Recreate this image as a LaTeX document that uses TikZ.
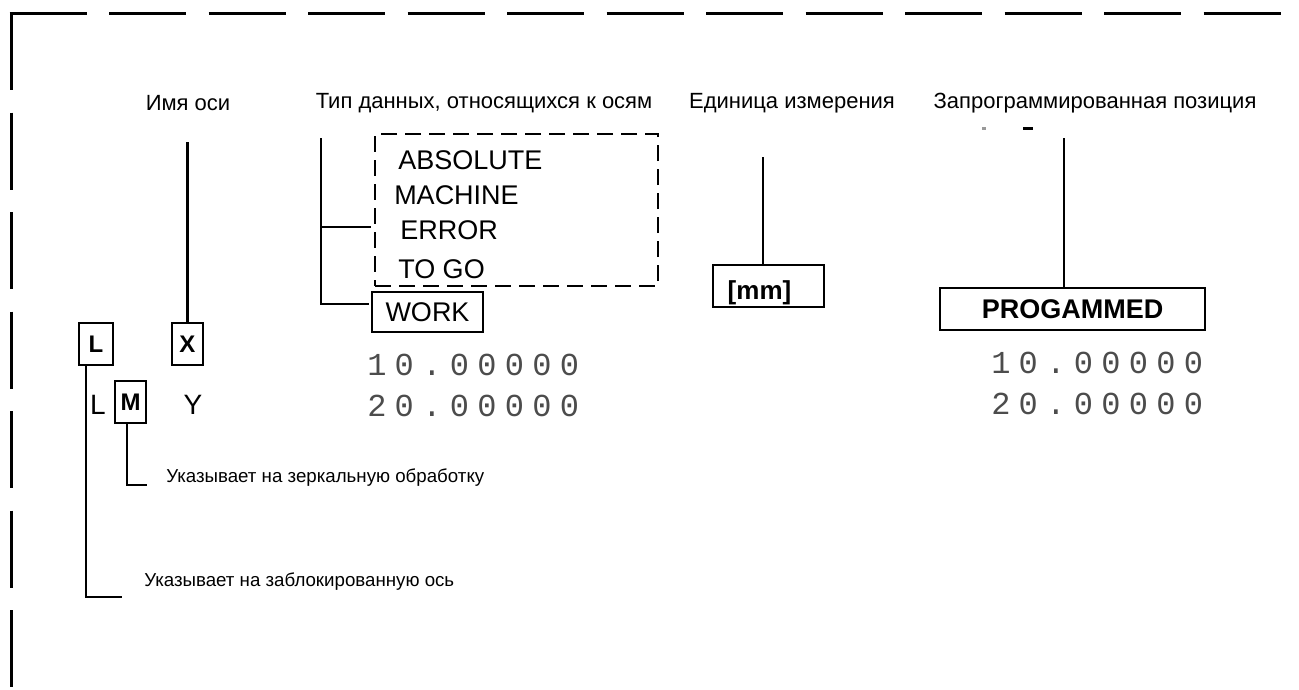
\documentclass[tikz,border=0pt]{standalone}
\usepackage{fontspec}
\setmainfont{Liberation Sans}
\newfontfamily\digitfont[LetterSpace=26]{Liberation Mono}
\usetikzlibrary{positioning}

\begin{document}
\begin{tikzpicture}[x=1pt, y=-1pt, node distance={41pt}, line width=2.5pt,
        head/.style = {font=\fontsize{22}{26}\selectfont},
        note/.style = {font=\fontsize{18.7}{22}\selectfont, anchor=west, inner sep=0pt},
        tag/.style = {font=\fontsize{27}{32}\selectfont, anchor=west, inner sep=0pt},
        axbox/.style = {draw, minimum width=31pt, minimum height=42pt, inner sep=0pt, font=\bfseries\fontsize{24}{28}\selectfont},
        axname/.style = {font=\fontsize{28}{32}\selectfont, inner sep=0pt},
        frm/.style = {draw, inner sep=0pt, font=\fontsize{27}{32}\selectfont},
        val/.style = {font=\digitfont\fontsize{32}{36}\selectfont, text=black!70, inner sep=0pt, anchor=west}]
        \useasboundingbox (0,0) rectangle (1299,689);
        \draw[dash pattern=on 77pt off 22.5pt, line width=3pt] (9.5,13) -- (1299,13);
        \draw[dash pattern=on 77pt off 22.5pt, line width=3pt] (11,13) -- (11,689);
        \node[head] (hname) at (188,103) {Имя оси};
        \node[head] (htype) at (484,103) {Тип данных, относящихся к осям};
        \node[head] (hunit) at (792,103) {Единица измерения};
        \node[head] (hprog) at (1095,103) {Запрограммированная позиция};
        \node[axbox, minimum width=34pt] (lock) at (96,344) {L};
        \node[axbox] (xax) at (187.5,344) {X};
        \node[axbox] (mir) at (130.5,402) {M};
        \node[axname] (lax) at (98,405) {L};
        \node[axname] (yax) at (193,405) {Y};
        \coordinate (xtop) at (187.5,142);
        \draw (xtop) -- (xax);
        \coordinate (lbend) at (86,597);
        \coordinate (lend) at (122,597);
        \draw (lock.south -| lbend) -- (lbend) -- (lend);
        \node[note] (lnote) at (143,582) {Указывает на заблокированную ось};
        \coordinate (mbend) at (127,485);
        \coordinate (mend) at (147,485);
        \draw (mir.south -| mbend) -- (mbend) -- (mend);
        \node[note] (mnote) at (165,478) {Указывает на зеркальную обработку};
        \node[draw, dash pattern=on 16pt off 8pt, minimum width=283pt, minimum height=152pt] (dlist) at (516.5,210) {};
        \node[tag] (abs) at (397,160) {ABSOLUTE};
        \node[tag] (mach) at (393,195) {MACHINE};
        \node[tag] (err) at (399,230) {ERROR};
        \node[tag] (togo) at (397,269) {TO GO};
        \node[frm, minimum width=111pt, minimum height=40pt] (work) at (427.5,312) {WORK};
        \coordinate (ttop) at (321,138);
        \coordinate (tmid) at (321,227);
        \coordinate (tbot) at (321,304);
        \coordinate (tlist) at (371,227);
        \coordinate (twork) at (369,304);
        \draw (ttop) -- (tbot) -- (twork);
        \draw (tmid) -- (tlist);
        \node[val] (v1) at (366,365) {10.00000};
        \node[val] (v2) [below of = v1] {20.00000};
        \node[val] (p1) at (990,363) {10.00000};
        \node[val] (p2) [below of = p1] {20.00000};
        \node[frm, minimum width=111pt, minimum height=42pt] (unit) at (768.5,286) {};
        \node[font=\bfseries\fontsize{26}{30}\selectfont, inner sep=0pt] (mm) at (759.5,293) {[mm]};
        \coordinate (utop) at (763,157);
        \draw (utop) -- (utop |- unit.north);
        \node[frm, minimum width=265pt, minimum height=42pt, font=\bfseries\fontsize{27}{32}\selectfont] (prog) at (1072.5,309) {PROGAMMED};
        \coordinate (ptop) at (1064,138);
        \draw (ptop) -- (ptop |- prog.north);
        \fill[black!40] (982,126.5) rectangle (986,129.5);
        \fill (1023,126.5) rectangle (1033,129.5);
\end{tikzpicture}
\end{document}
